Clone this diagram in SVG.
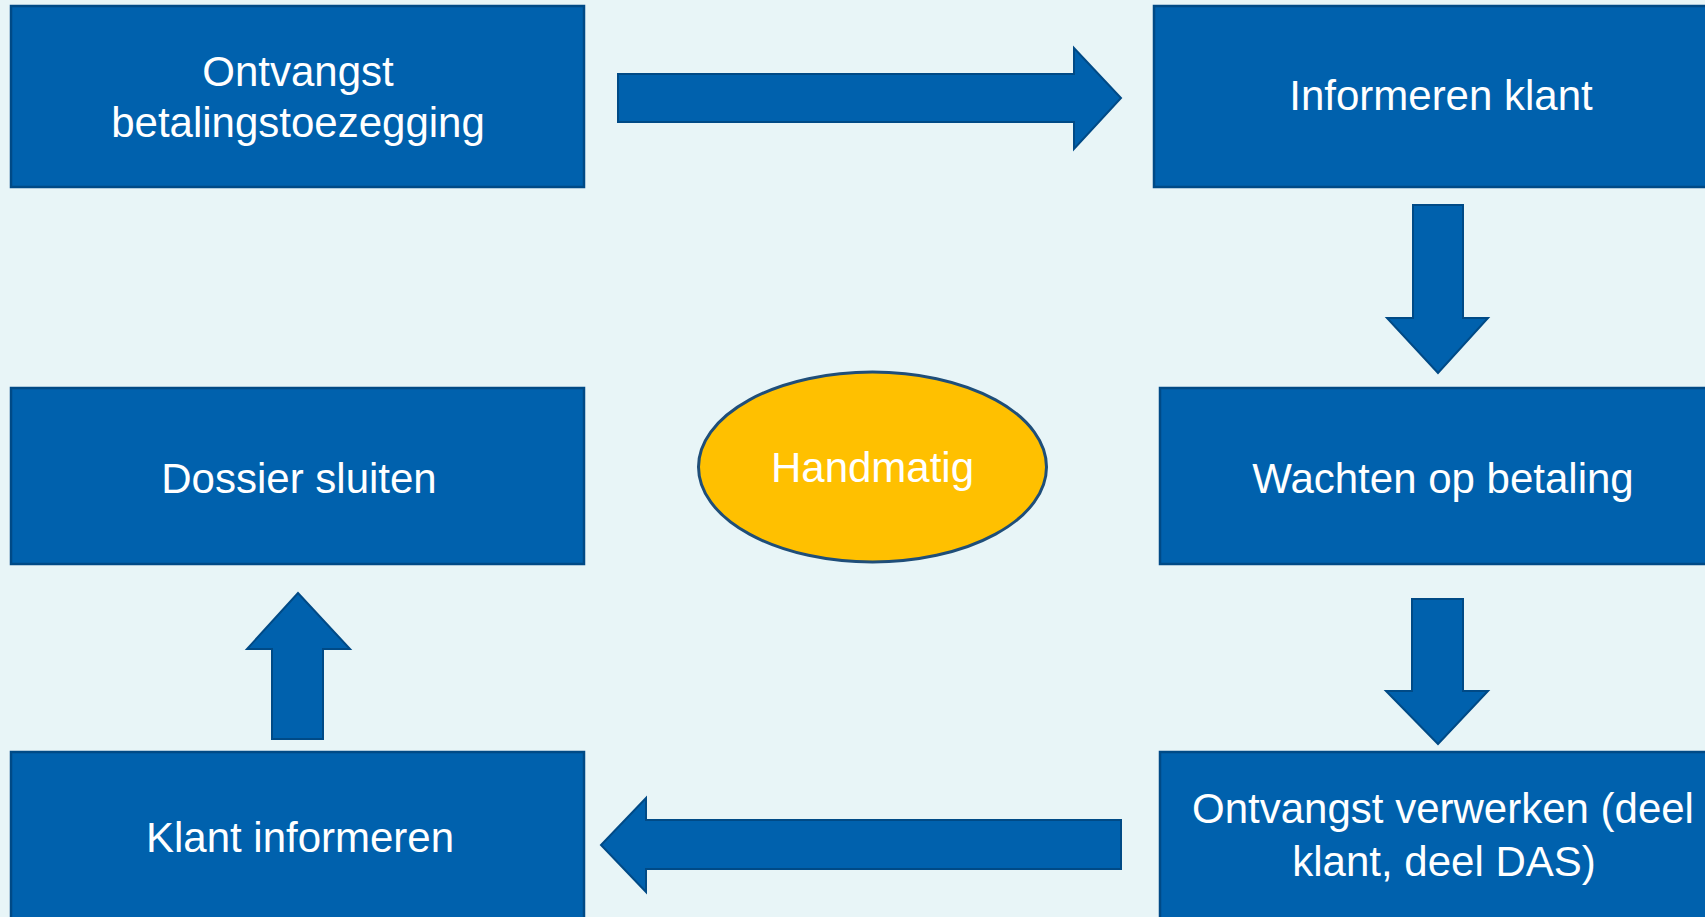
<svg xmlns="http://www.w3.org/2000/svg" width="1705" height="917" viewBox="0 0 1705 917">
<style>
.box{fill:#0061ad;stroke:#004a86;stroke-width:2.5}
.arr{fill:#0061ad;stroke:#004a86;stroke-width:2;stroke-linejoin:miter}
.t{font-family:"Liberation Sans",Arial,sans-serif;font-size:42px;fill:#ffffff;text-anchor:middle}
</style>
<rect x="0" y="0" width="1705" height="917" fill="#e8f5f7"/>
<g id="connectors">
<polygon class="arr" points="618,74 1074,74 1074,48 1121,98 1074,149 1074,122 618,122"/>
<polygon class="arr" points="1413,205 1463,205 1463,318 1488,318 1438,373 1387,318 1413,318"/>
<polygon class="arr" points="1412,599 1463,599 1463,691 1488,691 1438,744 1386,691 1412,691"/>
<polygon class="arr" points="1121,820 646,820 646,798 601,845 646,892 646,869 1121,869"/>
<polygon class="arr" points="272,739 323,739 323,649 350,649 298,593 247,649 272,649"/>
</g>
<g id="n1">
<rect class="box" x="11" y="6" width="573" height="181"/>
<text class="t" x="298" y="86">Ontvangst</text>
<text class="t" x="298" y="137">betalingstoezegging</text>
</g>
<g id="n2">
<rect class="box" x="1154" y="6" width="580" height="181"/>
<text class="t" x="1441" y="110">Informeren klant</text>
</g>
<g id="n3">
<rect class="box" x="1160" y="388" width="580" height="176"/>
<text class="t" x="1443" y="493">Wachten op betaling</text>
</g>
<g id="n4">
<rect class="box" x="1160" y="752" width="580" height="190"/>
<text class="t" x="1443" y="823">Ontvangst verwerken (deel</text>
<text class="t" x="1444" y="876">klant, deel DAS)</text>
</g>
<g id="n5">
<rect class="box" x="11" y="752" width="573" height="190"/>
<text class="t" x="300" y="852">Klant informeren</text>
</g>
<g id="n6">
<rect class="box" x="11" y="388" width="573" height="176"/>
<text class="t" x="299" y="493">Dossier sluiten</text>
</g>
<g id="n7">
<ellipse cx="872.5" cy="467" rx="174" ry="95" fill="#ffc000" stroke="#1f4e79" stroke-width="3"/>
<text class="t" x="872.5" y="482">Handmatig</text>
</g>
</svg>
